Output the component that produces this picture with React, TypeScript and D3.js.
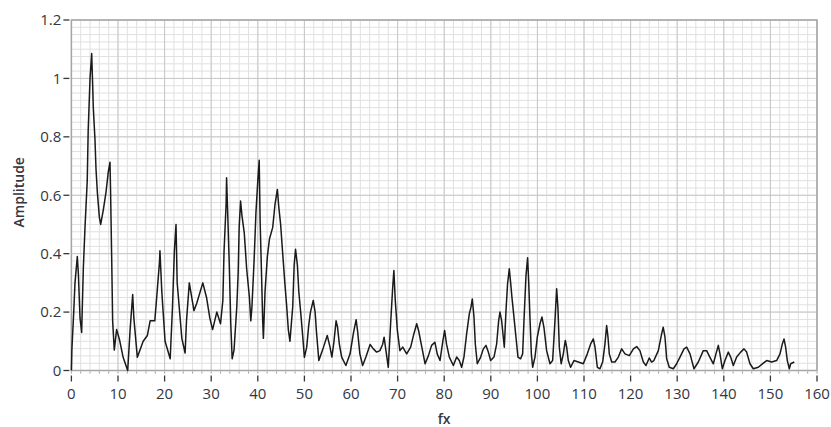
import React from 'react';
import * as d3 from 'd3';

// spectrum (frequency in fx units, amplitude)
const freq = [
  0, 0.1, 0.5, 0.77, 1.27, 1.5, 1.85, 2.2, 2.56, 2.92, 3.4, 3.6, 4.0, 4.35, 4.56, 4.7, 5.06, 5.28, 5.57, 6.0,
  6.28, 6.85, 7.42, 7.92, 8.28, 8.4, 8.64, 8.85, 9.2, 9.7, 10.07, 10.4, 11.1, 12.08, 12.6, 13.15, 13.4, 14.15, 15.4, 16.3,
  16.9, 17.9, 18.4, 18.9, 19.0, 19.4, 20.1, 21.2, 21.7, 22.1, 22.45, 22.7, 23.7, 24.4, 24.7, 25.3,
  26.3, 26.9, 28.2, 29.0, 29.7, 30.3, 31.2, 32.0, 32.5, 32.75, 33.2, 33.3, 33.5, 33.9, 34.2, 34.5, 34.9, 35.5, 35.8, 36.0,
  36.3, 36.6, 37.1, 37.6, 38.2, 38.5, 38.75, 39.2, 39.6, 40.0, 40.3, 40.5, 40.8, 41.05, 41.2, 41.55, 42.05, 42.5, 43.2, 43.7,
  44.2, 44.5, 44.9, 45.3, 45.8, 46.2, 46.55, 46.9, 47.5, 47.8, 48.1, 48.5, 48.8, 49.2, 49.6, 50.0, 50.5, 50.9, 51.3, 51.9,
  52.3, 52.6, 53.1,
  54.1, 54.9, 55.5, 55.9, 56.35, 56.8, 57.1, 57.5, 58.0, 58.9, 59.8, 60.5, 61.1, 61.4, 61.9, 62.5, 63.2, 64.1, 64.8, 65.5,
  66.2, 66.8, 67.1, 67.5, 68.0, 68.5, 68.95, 69.2, 69.5, 69.95, 70.5, 71.1, 71.95, 72.8, 73.5, 74.1, 74.5, 75.2, 75.9, 76.6,
  77.3, 78.0, 78.5, 79.1, 79.7, 80.1, 80.5, 81.1,
  81.96, 82.67, 83.24, 83.74, 84.24, 84.82, 85.39, 85.75, 86.03, 86.39, 86.68, 87.1, 87.82, 88.4, 88.97, 89.47, 89.97, 90.68,
  91.25, 91.68, 91.97, 92.33, 92.68, 92.9, 93.26, 93.6, 93.97, 94.26, 94.54, 94.97, 95.4, 95.83, 96.4, 96.83, 97.12, 97.55,
  97.9, 98.12, 98.4, 98.7, 98.98, 99.48, 99.98, 100.55, 100.98, 101.4, 101.98, 102.7, 103.27, 103.77, 104.13, 104.4, 104.7,
  105.1, 105.56, 105.99, 106.28, 106.63, 107.13, 107.85, 108.78, 109.85,
  110.71, 111.43, 112.0, 112.36, 112.86, 113.43, 114.0, 114.5, 114.86, 115.15, 115.43, 115.94, 116.65, 117.37, 118.08, 118.8,
  119.73, 120.6, 121.3, 122.0, 122.73, 123.3, 124.0, 124.5, 125.0, 125.95, 126.67, 127.0, 127.38, 127.74, 128.3, 129.17,
  129.88, 130.6, 131.46, 132.03, 132.75, 133.6, 134.53,
  135.6, 136.32, 137.0, 137.75, 138.32, 138.82, 139.18, 139.68, 140.25, 140.97, 141.47, 142.04, 142.76, 143.62, 144.33, 144.9,
  145.62, 146.33, 147.4, 148.48, 149.2, 150.27, 151.34, 152.06, 152.56, 152.92, 153.27, 153.63, 154.06, 154.35, 155.13,
];

const amp = [
  0, 0.07, 0.2, 0.3, 0.39, 0.33, 0.18, 0.13, 0.35, 0.49, 0.65, 0.82, 1.0, 1.085, 0.98, 0.9, 0.79, 0.69, 0.61, 0.525,
  0.5, 0.55, 0.61, 0.68, 0.713, 0.62, 0.39, 0.17, 0.07, 0.14, 0.12, 0.1, 0.045, 0.0, 0.14, 0.26, 0.18, 0.045, 0.1, 0.12,
  0.17, 0.17, 0.27, 0.37, 0.41, 0.27, 0.1, 0.04, 0.22, 0.41, 0.5, 0.3, 0.11, 0.06, 0.17, 0.3,
  0.205, 0.23, 0.3, 0.25, 0.18, 0.14, 0.2, 0.16, 0.24, 0.405, 0.57, 0.66, 0.56, 0.35, 0.16, 0.04, 0.07, 0.22, 0.34, 0.49,
  0.58, 0.53, 0.47, 0.35, 0.25, 0.17, 0.22, 0.375, 0.54, 0.65, 0.72, 0.51, 0.33, 0.17, 0.11, 0.27, 0.39, 0.45, 0.49, 0.57,
  0.62, 0.56, 0.5, 0.41, 0.3, 0.22, 0.14, 0.1, 0.22, 0.36, 0.415, 0.36, 0.27, 0.2, 0.125, 0.045, 0.08, 0.15, 0.2, 0.24,
  0.2, 0.13, 0.034,
  0.08, 0.12, 0.08, 0.046, 0.1, 0.17, 0.15, 0.09, 0.046, 0.017, 0.057, 0.126, 0.174, 0.137, 0.057, 0.017, 0.046, 0.089, 0.074, 0.063,
  0.068, 0.09, 0.114, 0.068, 0.011, 0.16, 0.285, 0.342, 0.24, 0.137, 0.068, 0.08, 0.057, 0.08, 0.126, 0.16, 0.137, 0.08, 0.023, 0.05,
  0.086, 0.097, 0.057, 0.034, 0.1, 0.137, 0.09, 0.046,
  0.017, 0.046, 0.034, 0.011, 0.046, 0.126, 0.194, 0.217, 0.245, 0.183, 0.09, 0.023, 0.046, 0.074, 0.086, 0.063, 0.034, 0.046,
  0.09, 0.17, 0.2, 0.17, 0.114, 0.08, 0.205, 0.297, 0.348, 0.3, 0.25, 0.183, 0.114, 0.046, 0.04, 0.057, 0.17, 0.325,
  0.386, 0.308, 0.183, 0.057, 0.011, 0.046, 0.114, 0.16, 0.183, 0.148, 0.068, 0.023, 0.034, 0.17, 0.28, 0.217, 0.08,
  0.023, 0.057, 0.103, 0.08, 0.034, 0.011, 0.034, 0.029, 0.023,
  0.057, 0.091, 0.108, 0.08, 0.011, 0.006, 0.029, 0.091, 0.154, 0.114, 0.057, 0.029, 0.029, 0.046, 0.074, 0.057,
  0.051, 0.074, 0.082, 0.068, 0.029, 0.017, 0.043, 0.029, 0.034, 0.068, 0.126, 0.148, 0.114, 0.04, 0.011, 0.006,
  0.023, 0.046, 0.074, 0.08, 0.057, 0.006, 0.029,
  0.068, 0.068, 0.046, 0.023, 0.057, 0.086, 0.057, 0.006, 0.034, 0.063, 0.046, 0.017, 0.046, 0.063, 0.074, 0.063,
  0.023, 0.006, 0.011, 0.025, 0.034, 0.029, 0.034, 0.057, 0.091, 0.108, 0.08, 0.034, 0.006, 0.023, 0.029,
];

const xTicks = [0, 10, 20, 30, 40, 50, 60, 70, 80, 90, 100, 110, 120, 130, 140, 150, 160];
const yTicks = [0, 0.2, 0.4, 0.6, 0.8, 1, 1.2];
const xLabel = 'fx';
const yLabel = 'Amplitude';

const W = 831;
const H = 427;
const plot = { left: 71.4, right: 817, top: 20, bottom: 370.5 };
const textColor = '#35363f';
const font = '"Open Sans", "Noto Sans", sans-serif';

export default function App() {
  const x = d3.scaleLinear().domain([0, 160]).range([plot.left, plot.right]);
  const y = d3.scaleLinear().domain([0, 1.2]).range([plot.bottom, plot.top]);

  const points = freq.map((f, i) => [f, amp[i]] as [number, number]);
  const path = d3.line<[number, number]>()
    .x(d => x(d[0]))
    .y(d => y(d[1]))(points) || '';

  const xMinor = d3.range(0, 161, 2);
  const yMinor = d3.range(0, 49).map(i => i * 0.025);

  return (
    <svg width={W} height={H} style={{ position: 'absolute', left: 0, top: 0, background: '#fff' }}
      fontFamily={font}>
      <rect x={plot.left} y={plot.top} width={plot.right - plot.left} height={plot.bottom - plot.top} fill="#fff" />

      {/* minor grid */}
      <g stroke="#e0e0e0" strokeWidth={1}>
        {xMinor.map(v => (
          <line key={'vx' + v} x1={x(v)} x2={x(v)} y1={plot.top} y2={plot.bottom} />
        ))}
        {yMinor.map(v => (
          <line key={'hy' + v} x1={plot.left} x2={plot.right} y1={y(v)} y2={y(v)} />
        ))}
      </g>
      {/* major grid */}
      <g stroke="#c8c8c8" strokeWidth={1}>
        {xTicks.map(v => (
          <line key={'VX' + v} x1={x(v)} x2={x(v)} y1={plot.top} y2={plot.bottom} />
        ))}
        {yTicks.map(v => (
          <line key={'HY' + v} x1={plot.left} x2={plot.right} y1={y(v)} y2={y(v)} />
        ))}
      </g>

      <rect x={plot.left} y={plot.top} width={plot.right - plot.left} height={plot.bottom - plot.top}
        fill="none" stroke="#a6a6a6" strokeWidth={1.5} />

      <path d={path} fill="none" stroke="#1a1a1a" strokeWidth={1.5} strokeLinejoin="round" />

      {/* y axis */}
      <g>
        {yTicks.map(v => (
          <g key={'yt' + v}>
            <line x1={plot.left - 8} x2={plot.left - 2} y1={y(v)} y2={y(v)} stroke={textColor} strokeWidth={1.3} />
            <text x={plot.left - 10} y={y(v)} dy="0.35em" textAnchor="end" fontSize={15} fill={textColor}>
              {d3.format('~g')(v)}
            </text>
          </g>
        ))}
      </g>

      {/* x axis */}
      <g>
        {xMinor.map(v => (
          <line key={'xm' + v} x1={x(v)} x2={x(v)} y1={plot.bottom + 1} y2={plot.bottom + 3}
            stroke="#9a9a9a" strokeWidth={1} />
        ))}
        {xTicks.map(v => (
          <g key={'xt' + v}>
            <line x1={x(v)} x2={x(v)} y1={plot.bottom + 5} y2={plot.bottom + 11} stroke={textColor} strokeWidth={1.3} />
            <text x={x(v)} y={399} textAnchor="middle" fontSize={15} fill={textColor}>{v}</text>
          </g>
        ))}
      </g>

      <text x={(plot.left + plot.right) / 2} y={424} textAnchor="middle" fontSize={14} fontWeight={600}
        fill={textColor}>{xLabel}</text>
      <text transform={`translate(24,${(plot.top + plot.bottom) / 2 - 3}) rotate(-90)`} textAnchor="middle"
        fontSize={14} fontWeight={600} fill={textColor}>{yLabel}</text>
    </svg>
  );
}
